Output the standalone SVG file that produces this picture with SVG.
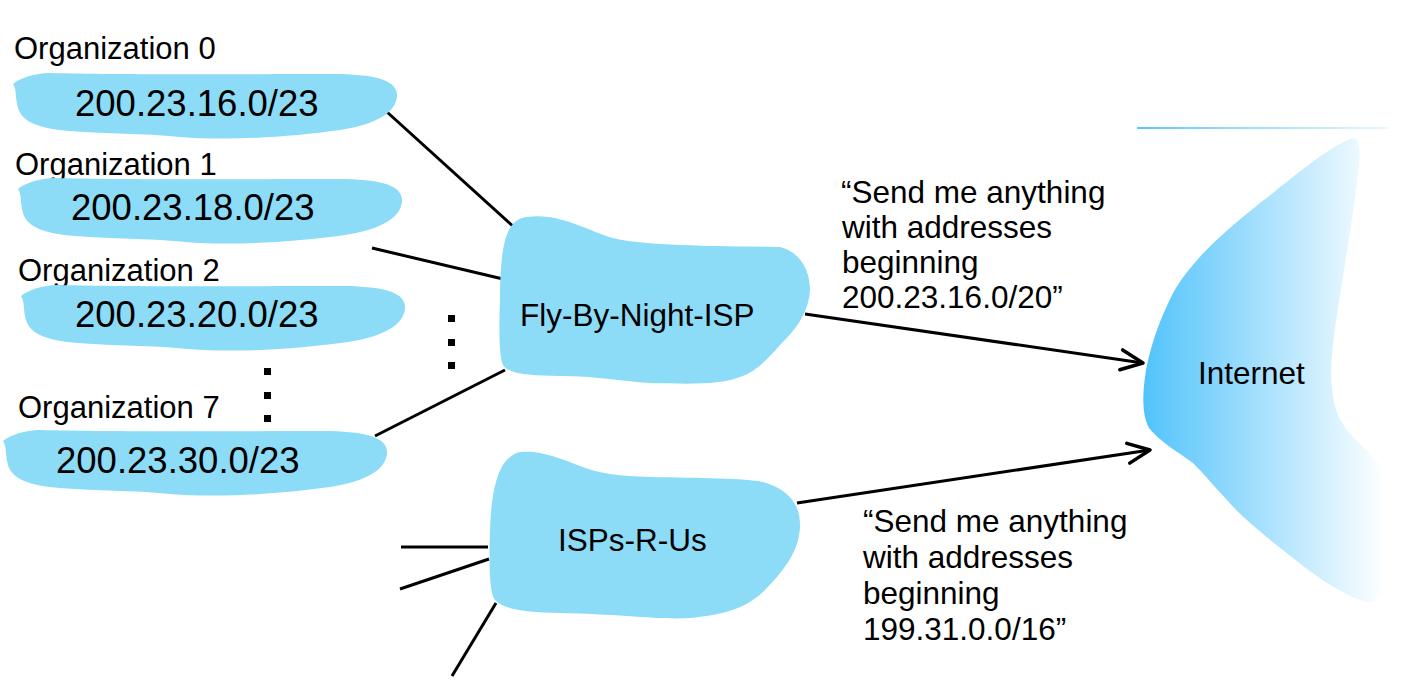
<svg xmlns="http://www.w3.org/2000/svg" xmlns:xlink="http://www.w3.org/1999/xlink" width="1416" height="700" viewBox="0 0 1416 700">
<style>
text{font-family:"Liberation Sans",Arial,Helvetica,sans-serif;fill:#000}
.org{font-size:31px}
.ip{font-size:36.5px}
.lbl{font-size:31.5px}
.blob{fill:#8CDCF8}
.ln{stroke:#000;stroke-width:3;fill:none}
.dot{fill:#000}
</style>
<defs>
<linearGradient id="netg" x1="1140" y1="0" x2="1385" y2="0" gradientUnits="userSpaceOnUse">
<stop offset="0" stop-color="#4FC2FB"/>
<stop offset="1" stop-color="#FFFFFF"/>
</linearGradient>
<linearGradient id="topg" x1="1137" y1="0" x2="1387" y2="0" gradientUnits="userSpaceOnUse">
<stop offset="0" stop-color="#5CC9FA"/>
<stop offset="1" stop-color="#E8F7FE"/>
</linearGradient>
<path id="orgblob" d="M13,84 C20,78 35,73 50,73 C120,75 250,74 340,74 C380,75 398,82 397,96 C396,112 378,124 340,130 C290,137 230,141 180,137 C140,133 110,134 70,131 C40,129 22,122 18,108 C15,98 17,90 13,84 Z"/>
<marker id="arr" markerUnits="userSpaceOnUse" markerWidth="30" markerHeight="26" viewBox="0 0 30 26" refX="25" refY="13" orient="auto">
<path d="M3,3 L25,13 L3,23" fill="none" stroke="#000" stroke-width="3.5" stroke-linecap="round" stroke-linejoin="round"/>
</marker>
</defs>
<rect width="1416" height="700" fill="#fff"/>

<g id="connectors">
<line class="ln" x1="387" y1="112" x2="515" y2="228"/>
<line class="ln" x1="372" y1="248" x2="503" y2="279"/>
<line class="ln" x1="375" y1="436" x2="505" y2="370"/>
<line class="ln" x1="805" y1="314" x2="1143" y2="363" marker-end="url(#arr)"/>
<line class="ln" x1="797" y1="503" x2="1150" y2="450" marker-end="url(#arr)"/>
<line class="ln" x1="401" y1="547" x2="488" y2="547"/>
<line class="ln" x1="400" y1="589" x2="489" y2="559"/>
<line class="ln" x1="496" y1="603" x2="452" y2="676"/>
</g>

<g id="top-line">
<line x1="1137" y1="128" x2="1387" y2="128" stroke="url(#topg)" stroke-width="2"/>
</g>

<g id="internet">
<path d="M1353,138 C1360,140 1360,150 1359,165 C1352,230 1338,300 1333,345 C1330,370 1330,395 1338,415 C1348,438 1370,450 1380,465 C1385,480 1384,540 1383,583 C1382,596 1378,603 1367,602 C1340,595 1310,572 1283,550 C1260,532 1240,515 1227,500 C1212,484 1205,475 1193,463 C1178,452 1160,442 1149,428 C1142,415 1142,395 1146,370 C1152,340 1160,320 1172,295 C1190,262 1220,235 1260,203 C1290,180 1330,145 1353,138 Z" fill="url(#netg)"/>
<text class="lbl" x="1198" y="384">Internet</text>
</g>

<g id="org0">
<text class="org" x="14" y="59">Organization 0</text>
<use xlink:href="#orgblob" class="blob"/>
<text class="ip" x="75" y="116">200.23.16.0/23</text>
</g>

<g id="org1">
<text class="org" x="15" y="175">Organization 1</text>
<use xlink:href="#orgblob" class="blob" transform="translate(5,105)"/>
<text class="ip" x="71" y="220">200.23.18.0/23</text>
</g>

<g id="org2">
<text class="org" x="18" y="281">Organization 2</text>
<use xlink:href="#orgblob" class="blob" transform="translate(8,212)"/>
<text class="ip" x="75" y="327">200.23.20.0/23</text>
</g>

<g id="org7">
<text class="org" x="18" y="418">Organization 7</text>
<use xlink:href="#orgblob" class="blob" transform="translate(-10,357)"/>
<text class="ip" x="56" y="473">200.23.30.0/23</text>
</g>

<g id="dots">
<rect class="dot" x="448" y="315" width="7" height="7"/>
<rect class="dot" x="448" y="339" width="7" height="7"/>
<rect class="dot" x="448" y="362" width="7" height="7"/>
<rect class="dot" x="264" y="368" width="7" height="7"/>
<rect class="dot" x="264" y="392" width="7" height="7"/>
<rect class="dot" x="264" y="415" width="7" height="7"/>
</g>

<g id="fly-by-night-isp">
<path class="blob" d="M527,217 C560,212 590,232 613,238 C640,245 700,246 780,247 C800,252 810,270 810,290 C809,310 798,328 780,345 C765,362 755,372 740,377 C720,385 690,384 650,383 C620,381 595,376 560,376 C530,376 508,374 503,365 C499,355 499,330 500,300 C500,270 502,245 508,232 C512,223 518,218 527,217 Z"/>
<text class="lbl" x="520" y="326">Fly-By-Night-ISP</text>
</g>

<g id="isps-r-us">
<path class="blob" d="M520,452 C540,450 560,458 580,466 C600,474 620,476 650,477 C700,478 745,478 763,482 C790,490 800,505 800,525 C800,545 790,565 765,590 C745,610 720,615 690,618 C660,620 620,614 560,613 C525,612 505,610 495,600 C489,592 489,560 490,530 C491,500 495,475 505,462 C510,456 515,453 520,452 Z"/>
<text class="lbl" x="558" y="551">ISPs-R-Us</text>
</g>

<g id="note-top">
<text class="lbl" x="841" y="203">“Send me anything</text>
<text class="lbl" x="842" y="238">with addresses</text>
<text class="lbl" x="842" y="273">beginning</text>
<text class="lbl" x="842" y="308">200.23.16.0/20”</text>
</g>

<g id="note-bottom">
<text class="lbl" x="863" y="532">“Send me anything</text>
<text class="lbl" x="863" y="568">with addresses</text>
<text class="lbl" x="863" y="604">beginning</text>
<text class="lbl" x="863" y="640">199.31.0.0/16”</text>
</g>
</svg>
